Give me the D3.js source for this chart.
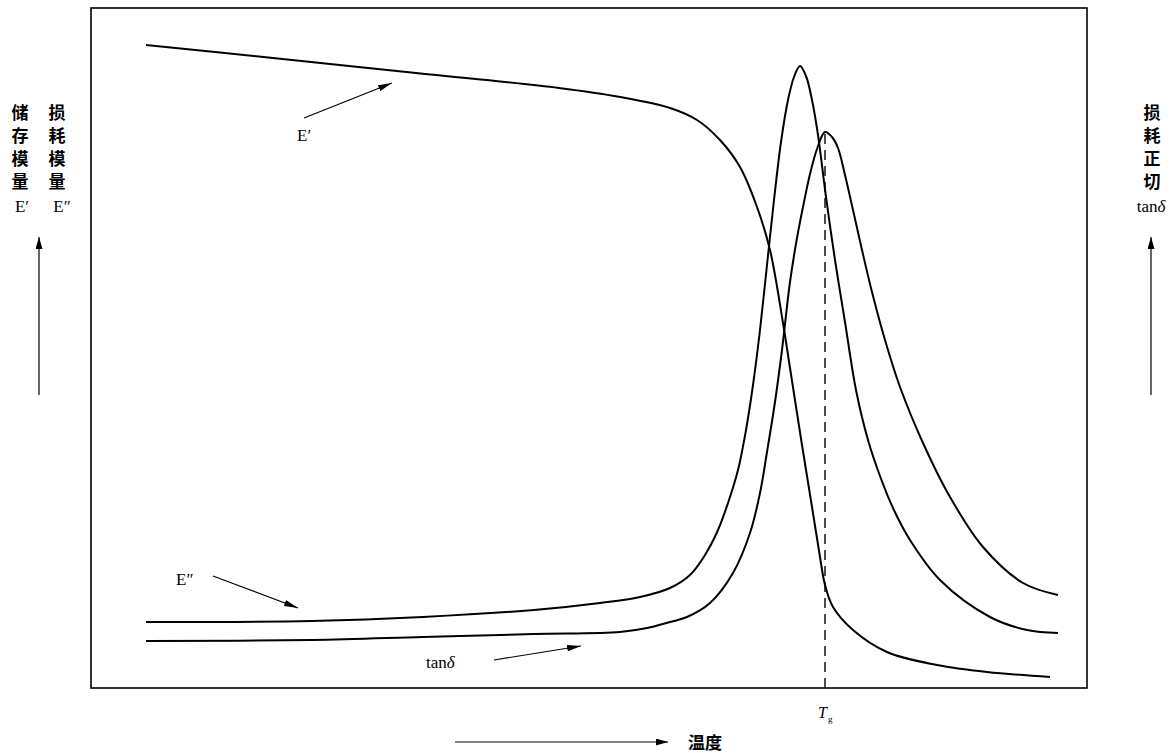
<!DOCTYPE html>
<html>
<head>
<meta charset="utf-8">
<script src="https://cdn.jsdelivr.net/npm/d3@7"></script>
<style>
  html, body { margin: 0; padding: 0; background: #fff; }
  svg { display: block; }
</style>
</head>
<body>
<svg id="chart" width="1176" height="753"></svg>
<script>
// ---- data (temperature in arbitrary units, response in arbitrary units) ----
const storageT  = [55, 182, 325, 468, 529, 579, 606, 629, 649, 666, 679, 692, 699, 711, 721, 729, 734, 742, 762, 796, 846, 896, 959];
const storageV  = [643, 630, 615, 600, 591, 580, 568, 548, 521, 481, 438, 365, 320, 243, 181, 131, 103, 81, 58, 36, 23, 16, 11];

const lossT     = [55, 221, 332, 443, 509, 549, 579, 599, 614, 627, 637, 647, 655, 662, 669, 676, 683, 690, 697, 703, 709, 715, 721, 727, 735, 744, 754, 765, 777, 789, 802, 819, 849, 899, 936, 967];
const lossV     = [66, 67, 71, 78, 85, 91, 100, 113, 133, 158, 185, 218, 258, 303, 358, 423, 488, 546, 588, 611, 622, 612, 588, 553, 491, 428, 366, 298, 248, 212, 180, 148, 108, 71, 58, 55];

const tanT      = [55, 221, 332, 443, 529, 556, 579, 596, 619, 642, 659, 669, 676, 684, 691, 699, 706, 713, 719, 726, 734, 741, 747, 754, 762, 771, 781, 794, 809, 832, 859, 892, 932, 967];
const tanV      = [47, 48, 51, 54, 56, 60, 66, 71, 85, 115, 155, 195, 236, 286, 338, 406, 450, 486, 514, 539, 556, 551, 540, 513, 478, 438, 396, 348, 301, 245, 191, 141, 105, 93];

const tgValue   = 734;

const leftLabel1  = ["储", "存", "模", "量"];
const leftLabel2  = ["损", "耗", "模", "量"];
const rightLabel  = ["损", "耗", "正", "切"];
const xLabel      = "温度";

// ---- layout ----
const svg = d3.select("#chart");
const frame = { left: 91, top: 8, right: 1087, bottom: 688 };
const x = d3.scaleLinear().domain([0, 996]).range([frame.left, frame.right]);
const y = d3.scaleLinear().domain([0, 680]).range([frame.bottom, frame.top]);

const serif = "'Liberation Serif', 'DejaVu Serif', serif";
const cjk = "'Noto Sans CJK SC', sans-serif";

// arrow marker
const defs = svg.append("defs");
function marker(id, len, half) {
  defs.append("marker")
    .attr("id", id)
    .attr("markerUnits", "userSpaceOnUse")
    .attr("viewBox", `0 ${-half} ${len} ${2 * half}`)
    .attr("refX", len).attr("refY", 0)
    .attr("markerWidth", len).attr("markerHeight", 2 * half)
    .attr("orient", "auto")
    .append("path")
    .attr("d", `M0,${-half}L${len},0L0,${half}Z`)
    .attr("fill", "#000");
}
marker("ah", 14, 3.2);
marker("ahAxis", 12, 3.5);

// frame
svg.append("rect")
  .attr("x", frame.left).attr("y", frame.top)
  .attr("width", frame.right - frame.left).attr("height", frame.bottom - frame.top)
  .attr("fill", "none").attr("stroke", "#000").attr("stroke-width", 1.6);

// curves
const line = d3.line().x(d => x(d[0])).y(d => y(d[1])).curve(d3.curveCatmullRom.alpha(0.5));
function drawSeries(ts, vs) {
  svg.append("path")
    .datum(ts.map((t, i) => [t, vs[i]]))
    .attr("d", line)
    .attr("fill", "none").attr("stroke", "#000").attr("stroke-width", 2);
}
drawSeries(storageT, storageV);
drawSeries(lossT, lossV);
drawSeries(tanT, tanV);

// Tg dashed line
const tgIdx = tanT.indexOf(tgValue);
svg.append("line")
  .attr("x1", x(tgValue)).attr("x2", x(tgValue))
  .attr("y1", y(tanV[tgIdx]) + 2).attr("y2", frame.bottom)
  .attr("stroke", "#000").attr("stroke-width", 1.4)
  .attr("stroke-dasharray", "10,6");

const tgText = svg.append("text")
  .attr("x", x(tgValue) - 7).attr("y", 718)
  .attr("font-family", serif).attr("font-size", 16);
tgText.append("tspan").attr("font-style", "italic").text("T");
tgText.append("tspan").attr("font-size", 9).attr("dy", 4).attr("dx", 1).text("g");

// annotations inside the plot
function annoArrow(x1, y1, x2, y2) {
  svg.append("line")
    .attr("x1", x1).attr("y1", y1).attr("x2", x2).attr("y2", y2)
    .attr("stroke", "#000").attr("stroke-width", 1.2)
    .attr("marker-end", "url(#ah)");
}
annoArrow(304, 118, 392, 83);
svg.append("text").attr("x", 297).attr("y", 141)
  .attr("font-family", serif).attr("font-size", 17).attr("fill", "#000")
  .text("E′");

annoArrow(213, 576, 298, 608);
svg.append("text").attr("x", 176).attr("y", 585)
  .attr("font-family", serif).attr("font-size", 17).attr("fill", "#000")
  .text("E″");

annoArrow(494, 660, 581, 646);
const tanLbl = svg.append("text").attr("x", 426).attr("y", 668)
  .attr("font-family", serif).attr("font-size", 17).attr("fill", "#000");
tanLbl.append("tspan").text("tan");
tanLbl.append("tspan").attr("font-style", "italic").text("δ");

// vertical labels
const rowY = [119, 142, 165, 188];
function column(chars, cx) {
  chars.forEach((c, i) => {
    svg.append("text").attr("x", cx).attr("y", rowY[i])
      .attr("text-anchor", "middle")
      .attr("font-family", cjk).attr("font-weight", 700).attr("font-size", 17)
      .text(c);
  });
}
column(leftLabel1, 20);
column(leftLabel2, 57);
column(rightLabel, 1152);

svg.append("text").attr("x", 22).attr("y", 212).attr("text-anchor", "middle")
  .attr("font-family", serif).attr("font-size", 17).text("E′");
svg.append("text").attr("x", 62).attr("y", 212).attr("text-anchor", "middle")
  .attr("font-family", serif).attr("font-size", 17).text("E″");
const rt = svg.append("text").attr("x", 1151).attr("y", 212).attr("text-anchor", "middle")
  .attr("font-family", serif).attr("font-size", 17);
rt.append("tspan").text("tan");
rt.append("tspan").attr("font-style", "italic").text("δ");

// axis direction arrows
function axisArrow(x1, y1, x2, y2) {
  svg.append("line")
    .attr("x1", x1).attr("y1", y1).attr("x2", x2).attr("y2", y2)
    .attr("stroke", "#000").attr("stroke-width", 1.2)
    .attr("marker-end", "url(#ahAxis)");
}
axisArrow(39, 395, 39, 237);
axisArrow(1151, 395, 1151, 237);
axisArrow(455, 742, 668, 742);

svg.append("text").attr("x", 688).attr("y", 749)
  .attr("font-family", cjk).attr("font-weight", 700).attr("font-size", 17)
  .text(xLabel);
</script>
</body>
</html>
